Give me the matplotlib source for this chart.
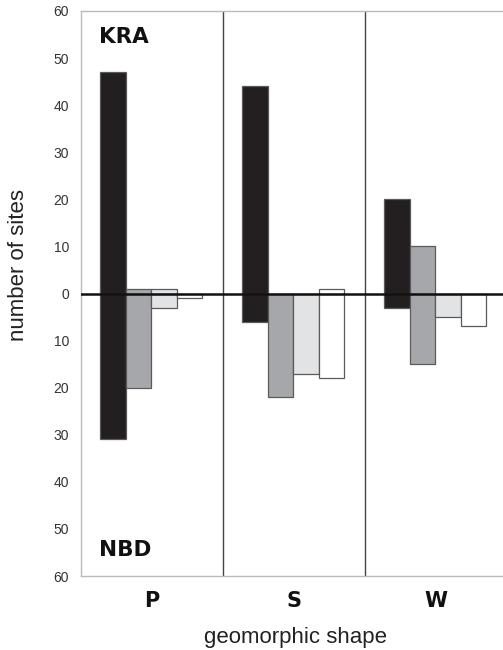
import numpy as np
import matplotlib
matplotlib.use("Agg")
import matplotlib.pyplot as plt

plt.rcParams['font.family'] = ['Liberation Sans', 'DejaVu Sans']

# geomorphic shape groups
shapes = ['P', 'S', 'W']
# four site classes, counts above the line (KRA) and below (NBD)
kra_black = [47, 44, 20]
kra_dark = [1, 0, 10]
kra_light = [1, 0, 0]
kra_white = [0, 1, 0]
nbd_black = [31, 6, 3]
nbd_dark = [20, 22, 15]
nbd_light = [3, 17, 5]
nbd_white = [1, 18, 7]

colors = ['#231f20', '#a6a7aa', '#e2e3e5', '#ffffff']
ytick_vals = [-60, -50, -40, -30, -20, -10, 0, 10, 20, 30, 40, 50, 60]

fig = plt.figure(figsize=(5.03, 6.5), dpi=100)
ax = fig.add_axes([81/503, 74/650, 426/503, 565/650])

x = np.arange(len(shapes))
w = 0.18
ups = [kra_black, kra_dark, kra_light, kra_white]
downs = [nbd_black, nbd_dark, nbd_light, nbd_white]
for i in range(4):
    xi = x + (i - 1.5) * w - 0.005
    ax.bar(xi, ups[i], w, color=colors[i], edgecolor='#5a5a5a', linewidth=0.9, zorder=2)
    ax.bar(xi, -np.array(downs[i]), w, color=colors[i], edgecolor='#5a5a5a', linewidth=0.9, zorder=2)

ax.axhline(0, color='#111111', lw=1.8, zorder=3)
for sep in [0.5, 1.5]:
    ax.axvline(sep, color='#444444', lw=1.0, zorder=1)

ax.set_xlim(-0.5, 2.5)
ax.set_ylim(-60, 60)
ax.set_yticks(ytick_vals)
ax.set_yticklabels([str(abs(v)) for v in ytick_vals], fontsize=10, color='#333333')
ax.set_xticks(x)
ax.set_xticklabels(shapes, fontsize=15, fontweight='bold', color='#111111',
                   family='DejaVu Sans')
ax.tick_params(axis='y', length=0, pad=8.5)
ax.tick_params(axis='x', length=0, pad=11)

for s in ['left', 'top', 'bottom']:
    ax.spines[s].set_color('#bbbbbb')
    ax.spines[s].set_linewidth(1.0)
ax.spines['right'].set_visible(False)

ax.text(-0.37, 54.5, 'KRA', fontsize=15.5, fontweight='bold', color='#111111',
        va='center', ha='left', family='DejaVu Sans')
ax.text(-0.37, -54.5, 'NBD', fontsize=15.5, fontweight='bold', color='#111111',
        va='center', ha='left', family='DejaVu Sans')

fig.text(19/503, 1 - 265/650, 'number of sites', fontsize=16, color='#222222',
         rotation=90, ha='center', va='center')
fig.text(296/503, 7/650, 'geomorphic shape', fontsize=16, color='#222222',
         ha='center', va='baseline')

fig.savefig('out.png', dpi=100)
